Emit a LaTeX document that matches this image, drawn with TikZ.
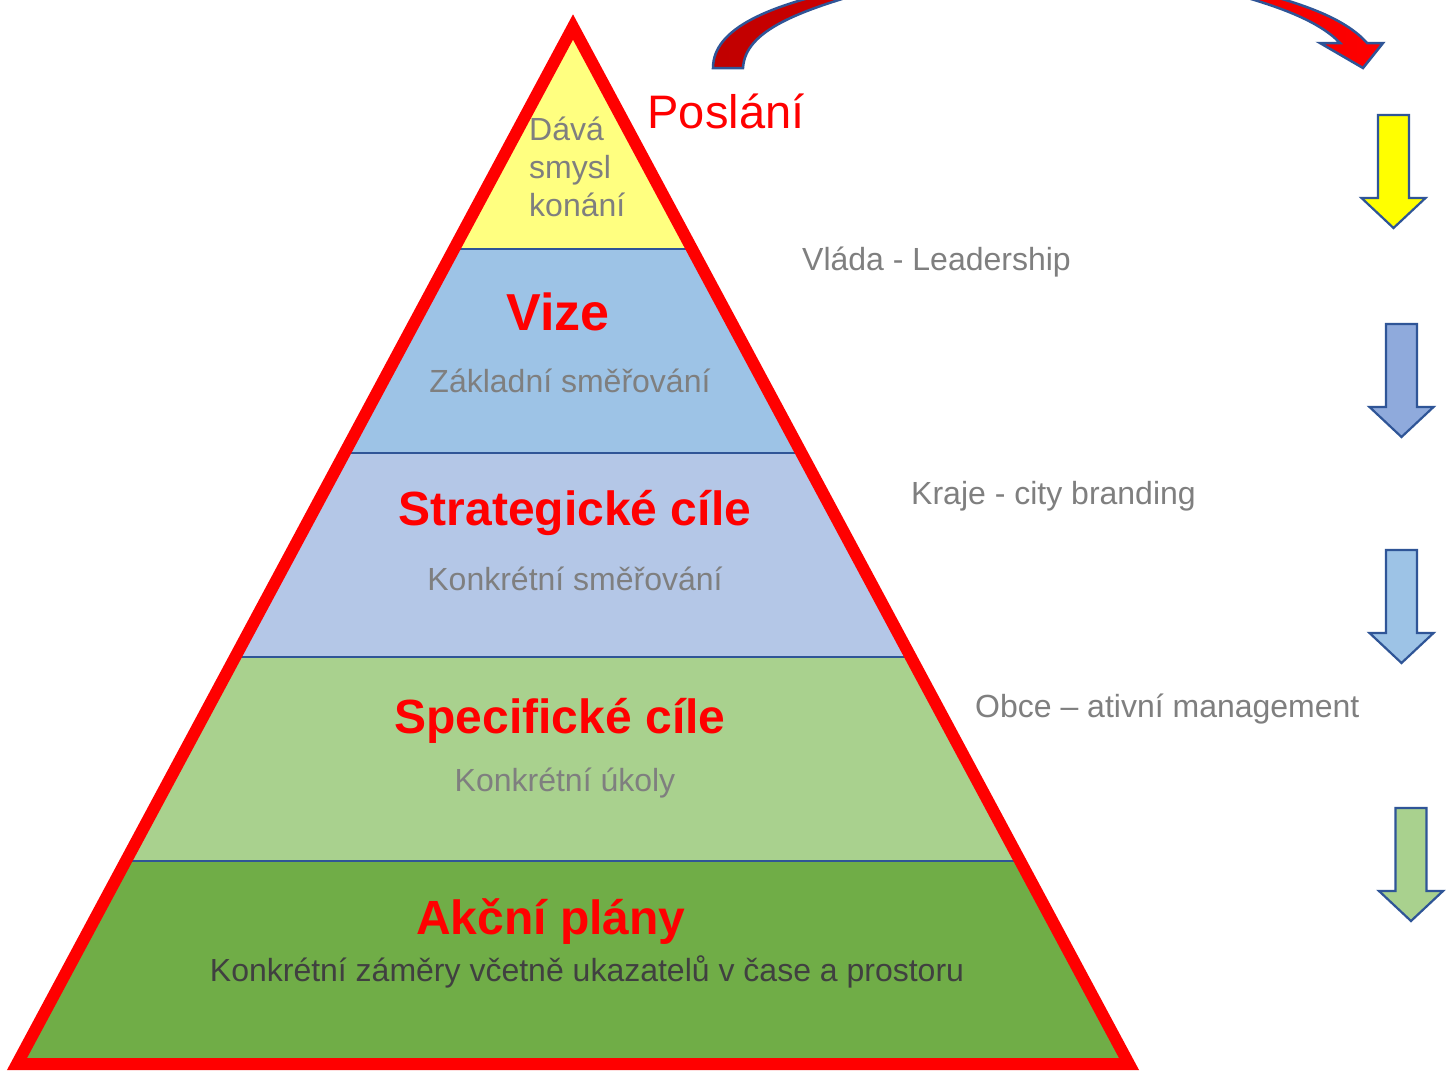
\documentclass[tikz,border=0pt]{standalone}
\usepackage{fontspec}
\setmainfont{Liberation Sans}
\definecolor{cYel}{HTML}{FFFF80}
\definecolor{cVize}{HTML}{9DC3E6}
\definecolor{cStrat}{HTML}{B4C7E7}
\definecolor{cSpec}{HTML}{A9D18E}
\definecolor{cAkc}{HTML}{70AD47}
\definecolor{cLine}{HTML}{2F5597}
\definecolor{cGray}{HTML}{7F7F7F}
\definecolor{cDark}{HTML}{404040}
\definecolor{cDarkRed}{HTML}{C00000}
\definecolor{cRed}{HTML}{FF0000}
\definecolor{cArrowA}{HTML}{FFFF00}
\definecolor{cArrowB}{HTML}{8FAADC}
\definecolor{cArrowC}{HTML}{9DC3E6}
\definecolor{cArrowD}{HTML}{A9D18E}
\newcommand\myDownArrow[3]{%
  \draw[arrowline, fill=#3] (#1-15.5,#2) -- (#1+15.5,#2) -- (#1+15.5,#2+83)
    -- (#1+32,#2+83) -- (#1,#2+113) -- (#1-32,#2+83) -- (#1-15.5,#2+83) -- cycle;}
\begin{document}
\begin{tikzpicture}[x=1pt,y=-1pt,
  bandline/.style={cLine, line width=2.5},
  arrowline/.style={cLine, line width=2.2, line join=miter},
  grayTxt/.style={text=cGray, font=\fontsize{32}{38}\selectfont, inner sep=0},
  titleTxt/.style={text=cRed, font=\fontsize{48}{56}\selectfont\bfseries, inner sep=0},
  sideTxt/.style={text=cGray, font=\fontsize{32}{38}\selectfont, inner sep=0, anchor=base west}]
\useasboundingbox (0,0) rectangle (1447,1074);
\fill[white] (0,0) rectangle (1447,1074);

% pyramid bands
\begin{scope}
  \clip (573,27) -- (17,1064) -- (1129,1064) -- cycle;
  \fill[cYel] (0,0) rectangle (1447,249);
  \fill[cVize] (0,249) rectangle (1447,453);
  \fill[cStrat] (0,453) rectangle (1447,657);
  \fill[cSpec] (0,657) rectangle (1447,861);
  \fill[cAkc] (0,861) rectangle (1447,1074);
  \draw[bandline] (0,249) -- (1447,249);
  \draw[bandline] (0,453) -- (1447,453);
  \draw[bandline] (0,657) -- (1447,657);
  \draw[bandline] (0,861) -- (1447,861);
\end{scope}
\draw[cRed, line width=12, line join=miter] (573,27) -- (17,1064) -- (1129,1064) -- cycle;

% curved arrow
\begin{scope}
  \clip (0,0) rectangle (1447,1074);
  \path[draw=cLine, line width=2.5, line join=miter, left color=cDarkRed, right color=cRed]
    (713,68) .. controls (713,28) and (770,5) .. (850,-12) -- (850,-80) -- (1240,-80) -- (1240,-12)
    .. controls (1300,2) and (1345,18) .. (1367,43) -- (1383,43) -- (1363,68) -- (1320,43) -- (1340,43)
    .. controls (1320,22) and (1280,5) .. (1210,-12) -- (1210,-60) -- (880,-60) -- (880,-12)
    .. controls (800,10) and (745,30) .. (743,68) -- cycle;
\end{scope}

% down arrows
\myDownArrow{1393.5}{115}{cArrowA}
\myDownArrow{1401.5}{324}{cArrowB}
\myDownArrow{1401.5}{550}{cArrowC}
\myDownArrow{1411}{808}{cArrowD}

% texts
\node[text=cRed, font=\fontsize{47}{54}\selectfont, inner sep=0, anchor=base] (poslani) at (726,128) {Poslání};
\node[grayTxt, align=left, anchor=north west] (smysl) at (529,117) {Dává\\smysl\\konání};
\node[titleTxt, font=\fontsize{52}{60}\selectfont\bfseries, anchor=base] (vize) at (558,330) {Vize};
\node[grayTxt, anchor=base] (vizeSub) at (570,392) {Základní směřování};
\node[titleTxt, anchor=base] (strat) at (575,525) {Strategické cíle};
\node[grayTxt, anchor=base] (stratSub) at (575,590) {Konkrétní směřování};
\node[titleTxt, anchor=base] (spec) at (560,733) {Specifické cíle};
\node[grayTxt, anchor=base] (specSub) at (565,791) {Konkrétní úkoly};
\node[titleTxt, anchor=base] (akc) at (551,934) {Akční plány};
\node[grayTxt, text=cDark, anchor=base] (akcSub) at (587,981) {Konkrétní záměry včetně ukazatelů v čase a prostoru};
\node[sideTxt] (vlada) at (802,270) {Vláda - Leadership};
\node[sideTxt] (kraje) at (911,504) {Kraje - city branding};
\node[sideTxt] (obce) at (975,717) {Obce – ativní management};
\end{tikzpicture}
\end{document}
